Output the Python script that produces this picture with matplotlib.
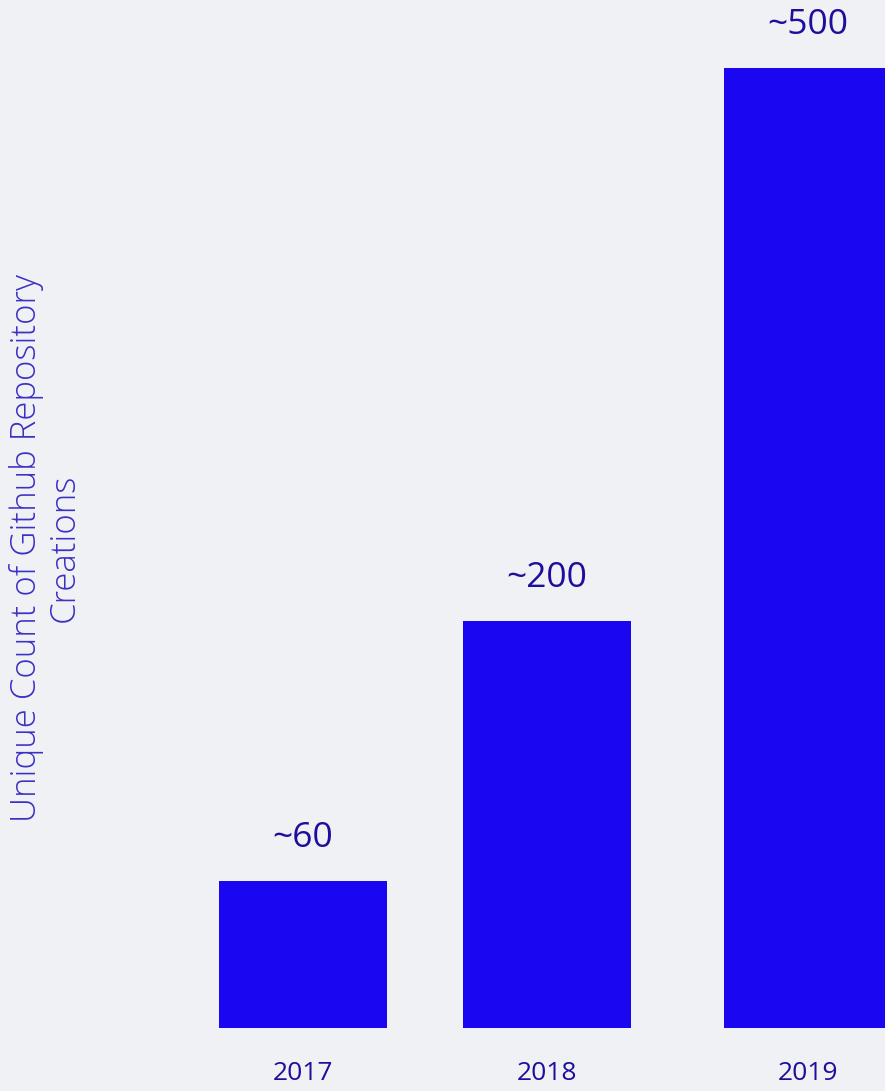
import matplotlib.pyplot as plt

# data
years = ['2017', '2018', '2019']
counts = [76.6, 212, 500]
bar_labels = ['~60', '~200', '~500']

# layout
x_pos = [0, 1, 2.07]
bg = '#eff1f4'
bar_color = '#1a06f0'
text_color = '#1d0f9c'

plt.rcParams['font.family'] = ['Open Sans', 'DejaVu Sans']

fig = plt.figure(figsize=(8.85, 10.91), dpi=100, facecolor=bg)
ax = fig.add_axes([0, 63 / 1091, 1, 1 - 63 / 1091])
ax.set_facecolor(bg)

ax.bar(x_pos, counts, width=0.69, color=bar_color)
for x, c, lab in zip(x_pos, counts, bar_labels):
    ax.annotate(lab, (x, c), xytext=(0, 19), textcoords='offset points',
                ha='center', va='bottom', fontsize=25.5, color=text_color)

ax.set_xlim(-303 / 244, 582 / 244)
ax.set_ylim(0, 1028 / 960 * 500)
ax.set_xticks(x_pos)
ax.set_xticklabels(years, fontsize=19, color=text_color)
ax.tick_params(axis='x', length=0, pad=24)
ax.set_yticks([])
for s in ax.spines.values():
    s.set_visible(False)

fig.text(45 / 885, 1 - 548 / 1091, 'Unique Count of Github Repository\nCreations',
         rotation=90, ha='center', va='center', multialignment='center',
         fontsize=25, fontweight='light', color='#3b30c4', linespacing=1.12)

fig.savefig('out.png', dpi=100, facecolor=bg)
